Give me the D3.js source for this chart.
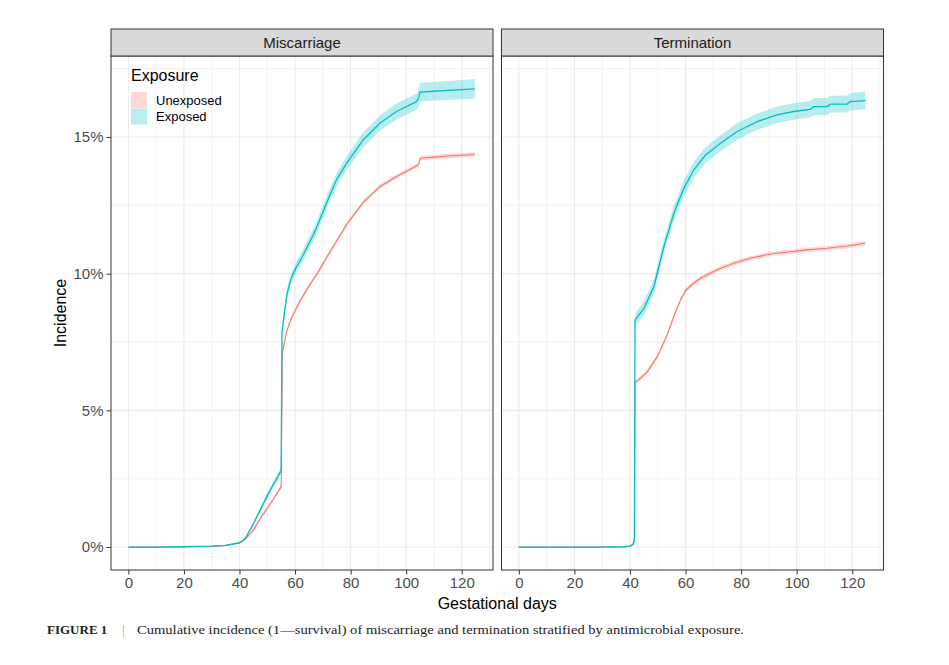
<!DOCTYPE html>
<html>
<head>
<meta charset="utf-8">
<script src="https://cdn.jsdelivr.net/npm/d3@7"></script>
<style>
  body { margin: 0; background: #fff; }
  svg { display: block; font-family: "Liberation Sans", Arial, sans-serif; }
</style>
</head>
<body>
<div id="chart"></div>
<script>
// panels and series
const panels = ["Miscarriage", "Termination"];
const exposures = ["Unexposed", "Exposed"];
const xTicks = [0, 20, 40, 60, 80, 100, 120];
const yTicks = [0, 5, 10, 15];

// [day, estimate %, lower %, upper %]
const miscarriageUnexposed = [
  [0, 0, 0, 0], [10, 0, 0, 0], [20, 0.01, 0, 0.02], [30, 0.03, 0.02, 0.04],
  [35, 0.06, 0.05, 0.07], [40, 0.15, 0.13, 0.17], [42, 0.28, 0.25, 0.31],
  [45, 0.62, 0.58, 0.66], [48, 1.12, 1.07, 1.17], [52, 1.72, 1.66, 1.78],
  [55, 2.2, 2.14, 2.26], [55.4, 7.1, 7.02, 7.18], [57, 7.9, 7.82, 7.98],
  [58.8, 8.4, 8.32, 8.48], [61.8, 9.0, 8.92, 9.08], [65, 9.55, 9.47, 9.63],
  [68.4, 10.07, 9.99, 10.15], [72, 10.7, 10.62, 10.78], [75, 11.2, 11.12, 11.28],
  [78.6, 11.8, 11.72, 11.88], [84.5, 12.6, 12.52, 12.68], [90.5, 13.18, 13.1, 13.26],
  [96.5, 13.55, 13.47, 13.63], [103.7, 13.94, 13.86, 14.02], [104.5, 14.0, 13.92, 14.08],
  [105, 14.22, 14.14, 14.3], [110, 14.26, 14.18, 14.34], [115, 14.3, 14.22, 14.38],
  [120, 14.33, 14.25, 14.41], [124.7, 14.36, 14.28, 14.44]
];
const miscarriageExposed = [
  [0, 0, 0, 0], [10, 0, 0, 0], [20, 0.01, 0, 0.02], [30, 0.03, 0.02, 0.04],
  [35, 0.06, 0.05, 0.07], [40, 0.15, 0.12, 0.18], [42, 0.3, 0.25, 0.35],
  [45, 0.85, 0.78, 0.92], [48, 1.47, 1.38, 1.56], [50, 1.87, 1.77, 1.97],
  [52, 2.25, 2.14, 2.36], [55, 2.8, 2.68, 2.92], [55.3, 7.9, 7.72, 8.08],
  [55.6, 8.1, 7.92, 8.28], [56.2, 8.6, 8.42, 8.78], [57.2, 9.3, 9.1, 9.5],
  [58.5, 9.8, 9.6, 10.0], [60.3, 10.2, 10.0, 10.4], [62.5, 10.6, 10.39, 10.81],
  [64.5, 11.0, 10.78, 11.22], [66.5, 11.4, 11.18, 11.62], [68.4, 11.84, 11.61, 12.07],
  [71.4, 12.6, 12.36, 12.84], [75, 13.45, 13.2, 13.7], [78.6, 14.04, 13.78, 14.3],
  [84.5, 14.89, 14.62, 15.16], [90.5, 15.5, 15.22, 15.78], [96.5, 15.93, 15.64, 16.22],
  [103.7, 16.29, 15.99, 16.59], [104.4, 16.4, 16.08, 16.72], [105, 16.64, 16.3, 16.98],
  [110, 16.67, 16.33, 17.01], [115, 16.7, 16.35, 17.05], [120, 16.73, 16.38, 17.08],
  [124.7, 16.76, 16.4, 17.12]
];
const terminationUnexposed = [
  [0, 0, 0, 0], [20, 0, 0, 0], [30, 0, 0, 0], [38, 0.01, 0, 0.02],
  [40, 0.03, 0.02, 0.04], [41.2, 0.1, 0.08, 0.12], [41.6, 0.3, 0.27, 0.33],
  [41.8, 6.02, 5.94, 6.1], [43.5, 6.15, 6.07, 6.23], [46.2, 6.41, 6.33, 6.49],
  [49.8, 6.96, 6.88, 7.04], [53.4, 7.76, 7.68, 7.84], [55.8, 8.45, 8.37, 8.53],
  [58.2, 9.04, 8.96, 9.12], [60, 9.38, 9.3, 9.46], [62.5, 9.62, 9.54, 9.7],
  [65.4, 9.83, 9.75, 9.91], [71.4, 10.14, 10.06, 10.22], [77.3, 10.38, 10.3, 10.46],
  [83.3, 10.56, 10.48, 10.64], [90.5, 10.72, 10.64, 10.8], [97.7, 10.8, 10.72, 10.88],
  [103.7, 10.87, 10.79, 10.95], [110.9, 10.93, 10.85, 11.01], [118.1, 11.01, 10.93, 11.09],
  [124.7, 11.11, 11.03, 11.19]
];
const terminationExposed = [
  [0, 0, 0, 0], [20, 0, 0, 0], [30, 0, 0, 0], [38, 0.01, 0, 0.02],
  [40, 0.03, 0.02, 0.04], [41.2, 0.12, 0.09, 0.15], [41.6, 0.3, 0.25, 0.35],
  [41.8, 8.3, 8.06, 8.54], [45, 8.73, 8.48, 8.98], [48.6, 9.52, 9.26, 9.78],
  [52.2, 10.99, 10.72, 11.26], [55.8, 12.21, 11.93, 12.49], [59.4, 13.12, 12.83, 13.41],
  [62.9, 13.79, 13.5, 14.08], [67.2, 14.34, 14.05, 14.63], [72.6, 14.77, 14.48, 15.06],
  [78.6, 15.2, 14.9, 15.5], [85.8, 15.56, 15.26, 15.86], [92.9, 15.81, 15.51, 16.11],
  [98.9, 15.93, 15.63, 16.23], [104.9, 16.01, 15.71, 16.31], [106.1, 16.11, 15.8, 16.42],
  [110.9, 16.11, 15.8, 16.42], [112.1, 16.2, 15.89, 16.51], [118.1, 16.2, 15.89, 16.51],
  [119.3, 16.29, 15.97, 16.61], [124.7, 16.33, 16.01, 16.65]
];

const seriesByPanel = {
  Miscarriage: { Unexposed: miscarriageUnexposed, Exposed: miscarriageExposed },
  Termination: { Unexposed: terminationUnexposed, Exposed: terminationExposed }
};

const colors = { Unexposed: "#F8766D", Exposed: "#00BFC4" };

const width = 949, height = 665;
const panelW = 382, panelTop = 56, panelH = 514, stripH = 27;
const panelX = [111, 501.5];

const svg = d3.select("#chart").append("svg")
    .attr("width", width)
    .attr("height", height);

const x = d3.scaleLinear().domain([-6.25, 131.25]).range([0, panelW]);
const y = d3.scaleLinear().domain([-0.84, 17.96]).range([panelH, 0]);

const area = d3.area()
    .x(d => x(d[0]))
    .y0(d => y(d[2]))
    .y1(d => y(d[3]));
const line = d3.line()
    .x(d => x(d[0]))
    .y(d => y(d[1]));

panels.forEach((name, i) => {
  const g = svg.append("g").attr("transform", `translate(${panelX[i]},${panelTop})`);

  g.append("rect").attr("width", panelW).attr("height", panelH).attr("fill", "#fff");

  // grid: minor then major
  g.selectAll(".gy-minor").data([2.5, 7.5, 12.5, 17.5]).enter().append("line")
      .attr("x1", 0).attr("x2", panelW)
      .attr("y1", d => y(d)).attr("y2", d => y(d))
      .attr("stroke", "#EBEBEB").attr("stroke-width", 0.6);
  g.selectAll(".gx-minor").data([10, 30, 50, 70, 90, 110, 130]).enter().append("line")
      .attr("y1", 0).attr("y2", panelH)
      .attr("x1", d => x(d)).attr("x2", d => x(d))
      .attr("stroke", "#EBEBEB").attr("stroke-width", 0.6);
  g.selectAll(".gy").data(yTicks).enter().append("line")
      .attr("x1", 0).attr("x2", panelW)
      .attr("y1", d => y(d)).attr("y2", d => y(d))
      .attr("stroke", "#EBEBEB").attr("stroke-width", 1.1);
  g.selectAll(".gx").data(xTicks).enter().append("line")
      .attr("y1", 0).attr("y2", panelH)
      .attr("x1", d => x(d)).attr("x2", d => x(d))
      .attr("stroke", "#EBEBEB").attr("stroke-width", 1.1);

  // ribbons then lines
  exposures.forEach(e => {
    g.append("path").datum(seriesByPanel[name][e])
        .attr("d", area)
        .attr("fill", colors[e]).attr("fill-opacity", 0.28);
  });
  exposures.forEach(e => {
    g.append("path").datum(seriesByPanel[name][e])
        .attr("d", line)
        .attr("fill", "none")
        .attr("stroke", colors[e])
        .attr("stroke-width", e === "Exposed" ? 1.3 : 1.1);
  });

  g.append("rect").attr("width", panelW).attr("height", panelH)
      .attr("fill", "none").attr("stroke", "#333").attr("stroke-width", 1);

  // strip
  g.append("rect").attr("y", -stripH).attr("width", panelW).attr("height", stripH)
      .attr("fill", "#D9D9D9").attr("stroke", "#333").attr("stroke-width", 1);
  g.append("text").attr("x", panelW / 2).attr("y", -stripH / 2 + 5.5)
      .attr("text-anchor", "middle").attr("font-size", 15).attr("fill", "#1A1A1A")
      .text(name);

  // x axis
  const xa = g.append("g").attr("transform", `translate(0,${panelH})`)
      .call(d3.axisBottom(x).tickValues(xTicks).tickSize(4.5).tickPadding(3));
  xa.select(".domain").remove();
  xa.selectAll("line").attr("stroke", "#333");
  xa.selectAll("text").attr("font-size", 15).attr("fill", "#4D4D4D")
      .attr("font-family", "Liberation Sans, Arial, sans-serif");

  if (i === 0) {
    const ya = g.append("g")
        .call(d3.axisLeft(y).tickValues(yTicks).tickFormat(d => d + "%").tickSize(4.5).tickPadding(3));
    ya.select(".domain").remove();
    ya.selectAll("line").attr("stroke", "#333");
    ya.selectAll("text").attr("font-size", 15).attr("fill", "#4D4D4D")
        .attr("font-family", "Liberation Sans, Arial, sans-serif");

    // legend
    const lg = g.append("g").attr("transform", "translate(20,0)");
    lg.append("text").attr("x", 0).attr("y", 25).attr("font-size", 16).attr("fill", "#000")
        .text("Exposure");
    exposures.forEach((e, k) => {
      lg.append("rect").attr("x", 0).attr("y", 36 + k * 16.5).attr("width", 16).attr("height", 16)
          .attr("fill", colors[e]).attr("fill-opacity", 0.28);
      lg.append("text").attr("x", 25).attr("y", 48.5 + k * 16.5).attr("font-size", 13)
          .attr("fill", "#000").text(e);
    });
  }
});

// axis titles
svg.append("text")
    .attr("transform", `translate(66,${panelTop + panelH / 2}) rotate(-90)`)
    .attr("text-anchor", "middle").attr("font-size", 16).attr("fill", "#000")
    .text("Incidence");
svg.append("text")
    .attr("x", (panelX[0] + panelX[1] + panelW) / 2).attr("y", 609)
    .attr("text-anchor", "middle").attr("font-size", 16).attr("fill", "#000")
    .text("Gestational days");

// caption
const cap = svg.append("g").attr("font-family", "Liberation Serif, serif").attr("font-size", 13);
cap.append("text").attr("x", 47).attr("y", 634).attr("font-weight", "bold").attr("fill", "#222")
    .text("FIGURE 1");
cap.append("text").attr("x", 122).attr("y", 634).attr("fill", "#999").text("|");
cap.append("text").attr("x", 137).attr("y", 634).attr("fill", "#222")
    .attr("textLength", 607).attr("lengthAdjust", "spacingAndGlyphs")
    .text("Cumulative incidence (1\u2014survival) of miscarriage and termination stratified by antimicrobial exposure.");
</script>
</body>
</html>
